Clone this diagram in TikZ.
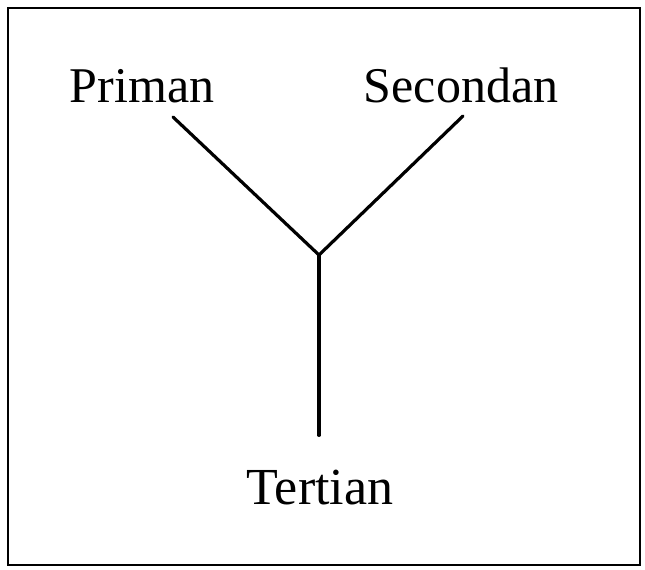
\documentclass[tikz,border=0pt]{standalone}
\usepackage{fontspec}
\setmainfont{Liberation Serif}
\usetikzlibrary{positioning}

\begin{document}
\begin{tikzpicture}[x=1pt,y=1pt,
  label/.style={font=\fontsize{50}{56}\selectfont,inner sep=0pt,anchor=base},
  stem/.style={line width=3.2pt,line cap=round}]
  \useasboundingbox (0,0) rectangle (645,570);
  \draw[line width=2pt] (8,5) rectangle (640,562);
  \node[label](priman) at (142,467){Priman};
  \node[label](secondan) at (461,467){Secondan};
  \node[label,font=\fontsize{52}{58}\selectfont](tertian) at (320,65){Tertian};
  \coordinate (j) at (319,315);
  \draw[stem]([xshift=31pt,yshift=-14pt]priman.base)--(j);
  \draw[stem]([xshift=2pt,yshift=-13pt]secondan.base)--(j);
  \draw[stem](j)--([yshift=35pt]tertian.north -| j);
\end{tikzpicture}
\end{document}
